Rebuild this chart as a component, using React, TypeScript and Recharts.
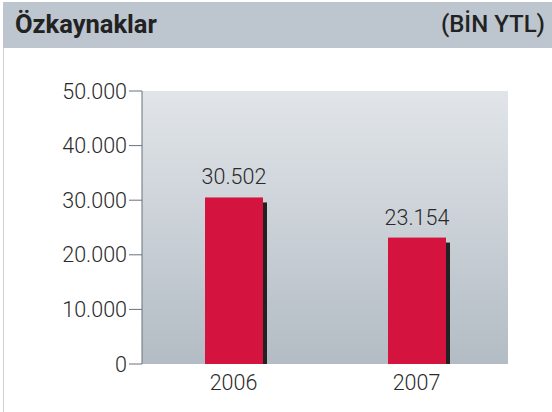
import React from 'react'
import {
  BarChart,
  Bar,
  XAxis,
  YAxis,
  CartesianGrid,
  LabelList,
} from 'recharts'

const years = ['2006', '2007']
const equity = [30502, 23154]
const yTicks = [0, 10000, 20000, 30000, 40000, 50000]
const edgeTicks = [0, 1, 2]

const data = years.map((year, i) => ({ year, value: equity[i], pos: i + 0.5 }))

const fmt = (v: number) => v.toLocaleString('de-DE')

const font = 'Roboto, "DejaVu Sans", sans-serif'
const textStyle = { fill: '#2a2a2a', fontSize: 21.5, fontWeight: 300, fontFamily: font }

// red bar with a thin dark shadow on the right side
const ShadowBar = (props: any) => {
  const { x, y, width, height } = props
  if (height <= 0) return null
  return (
    <g>
      <rect x={x + width} y={y + 5} width={4} height={height - 5} fill="#222222" />
      <rect x={x} y={y} width={width} height={height} fill="#d4133f" />
    </g>
  )
}

const App = () => {
  return (
    <div
      style={{
        position: 'absolute',
        left: 0,
        top: 0,
        width: 552,
        height: 412,
        background: '#fff',
        fontFamily: font,
        overflow: 'hidden',
      }}
    >
      <div
        style={{
          position: 'absolute',
          left: 3,
          top: 2,
          width: 549,
          height: 46,
          background: '#bdc6ce',
        }}
      />
      <div
        style={{
          position: 'absolute',
          left: 3,
          top: 48,
          width: 1,
          height: 364,
          background: '#ccd3d9',
        }}
      />
      <div
        style={{
          position: 'absolute',
          left: 15,
          top: 9,
          fontSize: 25.5,
          fontWeight: 700,
          color: '#222',
        }}
      >
        Özkaynaklar
      </div>
      <div
        style={{
          position: 'absolute',
          right: 7,
          top: 10,
          fontSize: 24,
          fontWeight: 500,
          color: '#222',
        }}
      >
        (BİN YTL)
      </div>
      <div style={{ position: 'absolute', left: 0, top: 0 }}>
        <BarChart
          width={552}
          height={412}
          data={data}
          margin={{ top: 91, right: 44, left: 0, bottom: 0 }}
          barCategoryGap={0}
        >
          <defs>
            <linearGradient id="plotBg" x1="0" y1="0" x2="0" y2="1">
              <stop offset="0%" stopColor="#e1e5e9" />
              <stop offset="100%" stopColor="#b3bcc4" />
            </linearGradient>
          </defs>
          <CartesianGrid
            horizontal={false}
            vertical={false}
            fill="url(#plotBg)"
            fillOpacity={1}
          />
          <XAxis
            xAxisId="edges"
            type="number"
            dataKey="pos"
            domain={[0, 2]}
            ticks={edgeTicks}
            height={0}
            tick={false}
            tickSize={12}
            stroke="#66727d"
            strokeWidth={2}
          />
          <XAxis
            dataKey="year"
            height={48}
            axisLine={false}
            tickLine={false}
            tickSize={0}
            tickMargin={11}
            tick={textStyle}
          />
          <YAxis
            width={142}
            domain={[0, 50000]}
            ticks={yTicks}
            tickFormatter={fmt}
            tickSize={13}
            tickMargin={2}
            stroke="#66727d"
            tick={textStyle}
          />
          <Bar
            dataKey="value"
            barSize={58}
            shape={<ShadowBar />}
            isAnimationActive={false}
          >
            <LabelList
              dataKey="value"
              position="top"
              offset={13}
              formatter={(v: any) => fmt(Number(v))}
              style={textStyle}
            />
          </Bar>
        </BarChart>
      </div>
    </div>
  )
}

export default App
